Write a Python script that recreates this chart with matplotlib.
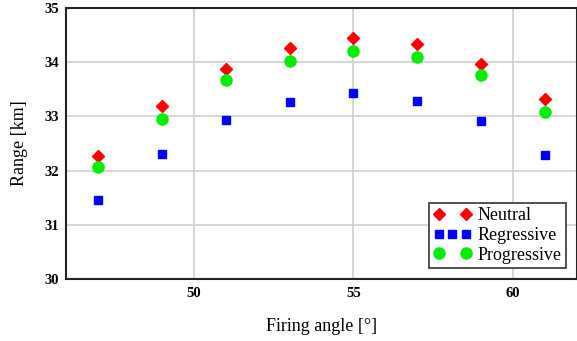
import matplotlib
matplotlib.use('Agg')
import matplotlib.pyplot as plt
from matplotlib.legend_handler import HandlerLine2D

angle = [47, 49, 51, 53, 55, 57, 59, 61]
neutral = [32.27, 33.19, 33.87, 34.27, 34.44, 34.33, 33.97, 33.33]
regressive = [31.46, 32.31, 32.94, 33.27, 33.43, 33.29, 32.92, 32.29]
progressive = [32.06, 32.96, 33.67, 34.03, 34.21, 34.09, 33.76, 33.08]

plt.rcParams['font.family'] = ['Liberation Serif', 'DejaVu Serif']

fig = plt.figure(figsize=(5.77, 3.41), dpi=100)
ax = fig.add_axes([0.1144, 0.1818, 0.8856, 0.7947])

ax.plot(angle, neutral, 'D', color='#ff0000', ms=6, label='Neutral', zorder=3)
ax.plot(angle, regressive, 's', color='#0000ff', ms=6, label='Regressive', zorder=3)
ax.plot(angle, progressive, 'o', color='#00ee00', ms=8, label='Progressive', zorder=3)

ax.set_xlim(46, 62)
ax.set_ylim(30, 35)
ax.set_xticks([50, 55, 60])
ax.set_yticks([30, 31, 32, 33, 34, 35])
ax.grid(True, color='#d0d0d0', lw=1.2)
ax.set_axisbelow(True)
ax.tick_params(length=0, labelsize=10.5)
ax.tick_params(axis='x', pad=6)
ax.tick_params(axis='y', pad=5)
for lbl in ax.get_xticklabels() + ax.get_yticklabels():
    lbl.set_fontweight('bold')
for s in ax.spines.values():
    s.set_linewidth(1.5)
    s.set_color('#222222')

ax.set_xlabel('Firing angle [°]', fontsize=13, labelpad=13)
ax.set_ylabel('Range [km]', fontsize=13, labelpad=12)

leg = ax.legend(loc='lower right', fontsize=13, numpoints=2, fancybox=False,
                framealpha=1, edgecolor='#333333', borderaxespad=0.6,
                handlelength=2.1, handletextpad=0.35, borderpad=0.25,
                labelspacing=0.15, markerscale=1.0,
                handler_map={ax.lines[1]: HandlerLine2D(numpoints=3)})
leg.get_frame().set_linewidth(1.2)

fig.savefig('out.png', dpi=100)
